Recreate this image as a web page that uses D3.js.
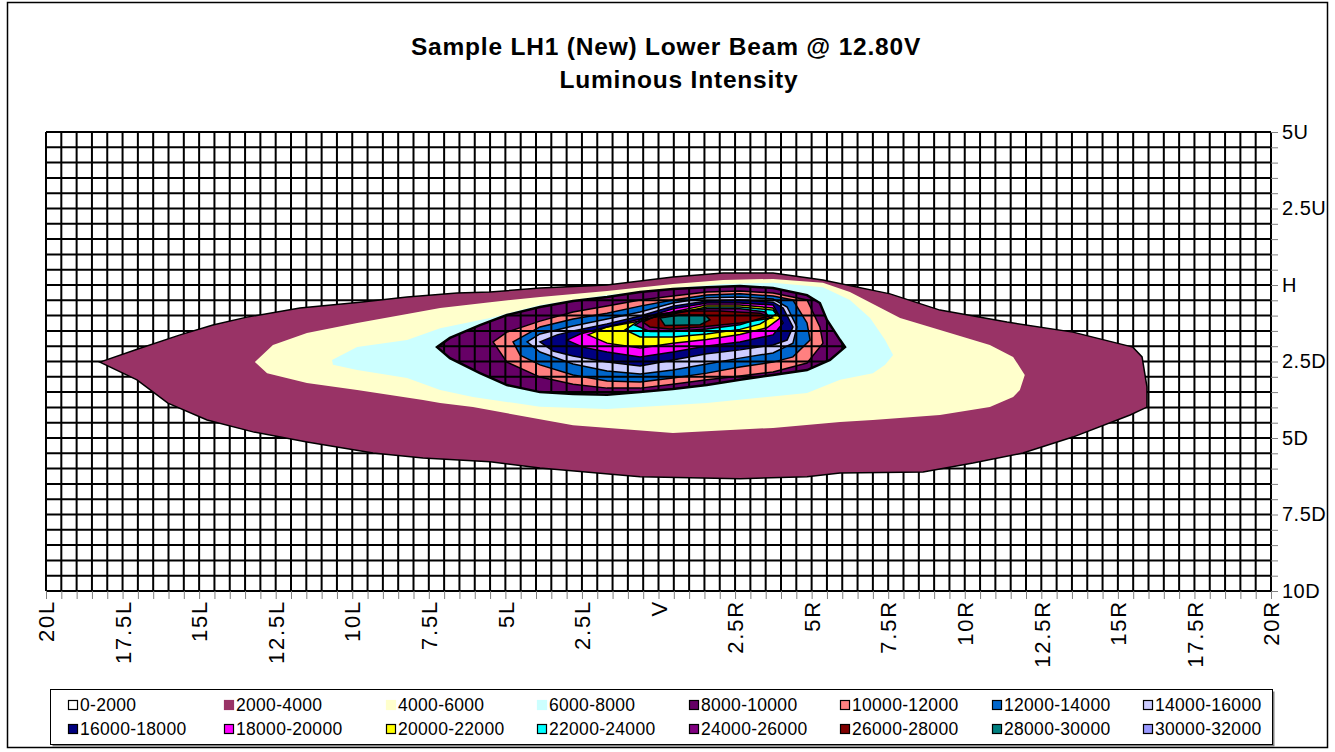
<!DOCTYPE html>
<html>
<head>
<meta charset="utf-8">
<script src="https://cdn.jsdelivr.net/npm/d3@7"></script>
<style>
  body { margin: 0; background: #fff; }
  text { font-family: Arial, "Liberation Sans", sans-serif; }
</style>
</head>
<body>
<svg id="chart" width="1335" height="752"></svg>
<script>
// ---- data (degrees: h < 0 is left, v < 0 is down) ----
const xTicks = [-20, -17.5, -15, -12.5, -10, -7.5, -5, -2.5, 0, 2.5, 5, 7.5, 10, 12.5, 15, 17.5, 20]
const xTickLabels = ["20L", "17.5L", "15L", "12.5L", "10L", "7.5L", "5L", "2.5L", "V", "2.5R", "5R", "7.5R", "10R", "12.5R", "15R", "17.5R", "20R"]
const yTicks = [5, 2.5, 0, -2.5, -5, -7.5, -10]
const yTickLabels = ["5U", "2.5U", "H", "2.5D", "5D", "7.5D", "10D"]

const levels = [0, 2000, 4000, 6000, 8000, 10000, 12000, 14000, 16000, 18000, 20000, 22000, 24000, 26000, 28000, 30000]
const bandColors = ["#FFFFFF", "#993366", "#FFFFCC", "#CCFFFF", "#660066", "#FF8080", "#0066CC", "#CCCCFF",
                    "#000080", "#FF00FF", "#FFFF00", "#00FFFF", "#800080", "#800000", "#008080", "#9999FF"]

// outline of the area at or above each level
const band2000 = [[-18.24,-2.52],[-17.0,-2.09],[-15.62,-1.63],[-14.55,-1.31],[-13.44,-1.05],[-11.71,-0.75],[-9.75,-0.56],
  [-8.21,-0.39],[-6.58,-0.26],[-5.50,-0.23],[-3.87,-0.10],[-1.68,0],[0.47,0.26],[2.11,0.39],[3.74,0.39],[5.37,0.16],
  [7.56,-0.29],[9.19,-0.82],[11.38,-1.21],[13.53,-1.54],[15.49,-2.03],[15.79,-2.35],[15.95,-3.33],[15.95,-3.99],
  [15.40,-4.25],[13.53,-4.97],[11.90,-5.49],[10.27,-5.82],[8.64,-6.11],[5.93,-6.14],[4.85,-6.27],[2.66,-6.33],
  [-0.60,-6.27],[-3.87,-5.98],[-5.50,-5.78],[-7.69,-5.65],[-9.32,-5.49],[-11.48,-5.13],[-13.24,-4.80],[-14.74,-4.41],
  [-16.02,-3.86],[-17.03,-3.10]]
const band4000 = [[-13.18,-2.52],[-12.59,-1.96],[-11.48,-1.57],[-9.84,-1.24],[-8.21,-0.95],[-7.13,-0.75],[-5.50,-0.56],
  [-3.87,-0.39],[-1.68,-0.20],[0.47,0.03],[2.11,0.16],[3.74,0.20],[5.37,0.07],[6.25,-0.23],[7.89,-1.08],[9.52,-1.57],
  [10.82,-1.96],[11.58,-2.35],[11.96,-2.94],[11.80,-3.43],[11.58,-3.66],[10.82,-3.99],[9.19,-4.25],[7.0,-4.41],
  [5.93,-4.48],[3.74,-4.67],[0.47,-4.84],[-2.79,-4.58],[-6.06,-3.99],[-7.13,-3.86],[-7.69,-3.76],[-9.84,-3.43],
  [-11.48,-3.20],[-12.78,-2.88]]
const band6000 = [[-10.66,-2.45],[-9.84,-2.03],[-8.21,-1.80],[-7.13,-1.41],[-5.50,-1.08],[-3.87,-0.65],[-1.68,-0.33],
  [0.47,-0.10],[2.11,0.03],[3.74,0.07],[5.37,-0.07],[6.25,-0.49],[6.91,-1.08],[7.40,-1.80],[7.66,-2.29],[7.40,-2.61],
  [7.0,-2.88],[5.93,-3.10],[4.85,-3.53],[1.58,-3.86],[-1.68,-4.05],[-3.87,-3.98],[-6.06,-3.66],[-7.13,-3.43],
  [-8.21,-3.04],[-9.84,-2.78],[-10.63,-2.61]]
const band8000 = [[-7.23,-2.03],[-6.81,-1.73],[-5.83,-1.31],[-4.95,-0.98],[-3.87,-0.72],[-2.79,-0.52],[-1.68,-0.39],
  [-0.60,-0.23],[0.47,-0.13],[1.58,-0.07],[2.66,-0.03],[3.74,-0.10],[4.85,-0.33],[5.27,-0.59],[5.50,-1.14],[5.93,-1.80],
  [6.09,-2.03],[5.60,-2.45],[4.85,-2.78],[3.74,-2.94],[2.66,-3.10],[1.58,-3.27],[0.47,-3.40],[-0.60,-3.50],
  [-1.68,-3.59],[-2.79,-3.56],[-3.87,-3.50],[-4.95,-3.27],[-5.83,-2.88],[-6.81,-2.39]]
const band10000 = [[-5.40,-1.86],[-4.95,-1.54],[-3.87,-1.18],[-2.79,-0.88],[-1.68,-0.69],[-0.60,-0.49],[0.47,-0.36],
  [1.58,-0.23],[2.66,-0.20],[3.74,-0.26],[4.85,-0.49],[5.27,-1.37],[5.37,-1.90],[4.85,-2.55],[3.74,-2.84],[2.66,-2.97],
  [1.58,-3.10],[0.47,-3.24],[-0.60,-3.37],[-1.68,-3.37],[-2.79,-3.24],[-3.87,-3.01],[-4.95,-2.52]]
const band12000 = [[-4.75,-1.86],[-3.87,-1.37],[-2.79,-1.11],[-1.68,-0.92],[-0.60,-0.69],[0.47,-0.49],[1.58,-0.33],
  [2.66,-0.29],[3.74,-0.36],[4.39,-0.49],[4.85,-1.24],[4.95,-1.80],[4.39,-2.35],[3.74,-2.52],[2.66,-2.68],[1.58,-2.88],
  [0.47,-3.04],[-0.60,-3.17],[-1.68,-3.14],[-2.79,-2.94],[-3.87,-2.61],[-4.52,-2.29]]
const band14000 = [[-4.29,-1.86],[-3.87,-1.60],[-2.79,-1.34],[-1.68,-1.11],[-0.60,-0.88],[0.47,-0.59],[1.58,-0.42],
  [2.66,-0.39],[3.74,-0.46],[4.20,-0.72],[4.52,-1.37],[4.39,-1.90],[3.74,-2.22],[2.66,-2.39],[1.58,-2.58],[0.47,-2.78],
  [-0.60,-2.91],[-1.68,-2.81],[-2.79,-2.58],[-3.87,-2.19]]
const band16000 = [[-3.87,-1.86],[-3.31,-1.63],[-2.79,-1.50],[-1.68,-1.27],[-0.60,-1.01],[0.47,-0.69],[1.58,-0.52],
  [2.66,-0.49],[3.74,-0.56],[4.07,-0.75],[4.39,-1.37],[4.20,-1.80],[3.74,-1.96],[2.66,-2.12],[1.58,-2.25],[0.47,-2.45],
  [-0.60,-2.65],[-1.68,-2.52],[-2.79,-2.32],[-3.44,-2.16]]
const band18000 = [[-2.99,-1.80],[-2.56,-1.60],[-1.68,-1.37],[-0.60,-1.11],[0.47,-0.78],[1.58,-0.59],[2.66,-0.59],
  [3.74,-0.65],[4.07,-1.24],[3.74,-1.63],[2.66,-1.86],[1.58,-1.99],[0.47,-2.19],[-0.60,-2.35],[-1.68,-2.19],[-2.47,-2.03]]
const band20000 = [[-2.30,-1.63],[-1.68,-1.37],[-0.60,-1.18],[0.47,-0.88],[1.58,-0.65],[2.66,-0.65],[3.74,-0.75],
  [3.97,-1.08],[3.54,-1.40],[2.66,-1.62],[1.58,-1.78],[0.47,-1.90],[-0.60,-2.06],[-1.68,-1.90]]
const band22000 = [[-1.09,-1.47],[-0.60,-1.14],[0.47,-0.95],[1.58,-0.72],[2.66,-0.72],[3.74,-0.82],[3.84,-0.95],
  [3.31,-1.28],[2.66,-1.45],[1.58,-1.60],[0.47,-1.70],[-0.60,-1.70]]
const band24000 = [[-0.77,-1.31],[-0.28,-1.01],[0.47,-0.88],[1.58,-0.78],[2.66,-0.78],[3.48,-0.88],[3.58,-1.01],
  [2.66,-1.30],[1.58,-1.44],[0.47,-1.52],[-0.28,-1.52]]
const band26000 = [[-0.51,-1.21],[0.05,-0.95],[1.03,-0.85],[2.01,-0.85],[3.31,-0.92],[3.71,-1.08],[2.66,-1.24],
  [1.36,-1.37],[0.38,-1.44],[-0.28,-1.37]]
const band28000 = [[0.05,-1.08],[0.70,-0.98],[1.52,-0.98],[1.68,-1.14],[1.36,-1.30],[0.21,-1.32]]

const outerBands = [band2000, band4000, band6000]
const innerBands = [band8000, band10000, band12000, band14000, band16000, band18000, band20000,
                    band22000, band24000, band26000, band28000]

// ---- layout ----
const svg = d3.select('#chart')
const x = d3.scaleLinear().domain([-20, 20]).range([46, 1271])
const y = d3.scaleLinear().domain([5, -10]).range([132, 591])
const path = d3.line().x(d => x(d[0])).y(d => y(d[1])).curve(d3.curveLinearClosed)

// chart frame
svg.append('rect')
    .attr('x', 7.5).attr('y', 2.5).attr('width', 1320).attr('height', 745)
    .attr('fill', '#fff').attr('stroke', '#000').attr('stroke-width', 1.5)

// title
const title = svg.append('text')
    .attr('x', 666).attr('text-anchor', 'middle')
    .attr('font-weight', 'bold').attr('font-size', 24.5)
    .attr('letter-spacing', 0.8)
title.append('tspan').attr('x', 666).attr('y', 55).text('Sample LH1 (New) Lower Beam @ 12.80V')
title.append('tspan').attr('x', 679).attr('y', 88).text('Luminous Intensity')

// grid every half degree
const gridH = d3.range(-20, 20.001, 0.5)
const gridV = d3.range(-10, 5.001, 0.5)
const drawGrid = g => {
    g.selectAll('.gx').data(gridH).join('line').attr('class', 'gx')
        .attr('x1', d => x(d)).attr('x2', d => x(d))
        .attr('y1', y(5)).attr('y2', y(-10))
    g.selectAll('.gy').data(gridV).join('line').attr('class', 'gy')
        .attr('x1', x(-20)).attr('x2', x(20))
        .attr('y1', d => y(d)).attr('y2', d => y(d))
    g.attr('stroke', '#000').attr('stroke-width', 2)
}
svg.append('g').call(drawGrid)

// outer bands cover the grid
svg.append('g').selectAll('path')
    .data(outerBands)
    .join('path')
        .attr('d', path)
        .attr('fill', (d, i) => bandColors[i + 1])
svg.append('path')
    .attr('d', path(band2000))
    .attr('fill', 'none').attr('stroke', '#000').attr('stroke-width', 1.5)

// inner bands
svg.append('g').selectAll('path')
    .data(innerBands)
    .join('path')
        .attr('d', path)
        .attr('fill', (d, i) => bandColors[i + 4])

// grid shows through the inner part
svg.append('clipPath').attr('id', 'inner-clip')
    .append('path').attr('d', path(band8000))
svg.append('g').attr('clip-path', 'url(#inner-clip)').call(drawGrid)

svg.append('g').selectAll('path')
    .data(innerBands)
    .join('path')
        .attr('d', path)
        .attr('fill', 'none')
        .attr('stroke', '#000')
        .attr('stroke-width', (d, i) => i == 0 ? 2.5 : 1.5)

// axes
const rightTicks = svg.append('g')
    .attr('transform', `translate(${x(20)},0)`)
    .call(d3.axisRight(y).tickValues(gridV).tickSize(7).tickFormat(''))
rightTicks.select('.domain').remove()
rightTicks.selectAll('line').attr('stroke', '#808080')

const rightAxis = svg.append('g')
    .attr('transform', `translate(${x(20)},0)`)
    .call(d3.axisRight(y).tickValues(yTicks).tickSize(0).tickPadding(11)
        .tickFormat((d, i) => yTickLabels[i]))
rightAxis.select('.domain').remove()
rightAxis.selectAll('text').attr('font-size', 20).attr('fill', '#000')
    .attr('letter-spacing', 0.5)
    .style('font-family', 'Arial, "Liberation Sans", sans-serif')

const bottomTicks = svg.append('g')
    .attr('transform', `translate(0,${y(-10)})`)
    .call(d3.axisBottom(x).tickValues(gridH).tickSize(8).tickFormat(''))
bottomTicks.select('.domain').remove()
bottomTicks.selectAll('line').attr('stroke', '#808080')

const bottomAxis = svg.append('g')
    .attr('transform', `translate(0,${y(-10)})`)
    .call(d3.axisBottom(x).tickValues(xTicks).tickSize(0)
        .tickFormat((d, i) => xTickLabels[i]))
bottomAxis.select('.domain').remove()
bottomAxis.selectAll('text')
    .attr('transform', 'rotate(-90)')
    .attr('text-anchor', 'end')
    .attr('x', -9).attr('y', 0).attr('dy', '0.35em')
    .attr('font-size', 22).attr('fill', '#000')
    .attr('letter-spacing', 1.8)
    .style('font-family', 'Arial, "Liberation Sans", sans-serif')

// legend
const legendX = [68, 224, 386, 537, 689, 840, 992, 1143]
svg.append('rect')
    .attr('x', 52.5).attr('y', 691.5).attr('width', 1222).attr('height', 55)
    .attr('fill', '#808080')
svg.append('rect')
    .attr('x', 50.5).attr('y', 689.5).attr('width', 1222).attr('height', 55)
    .attr('fill', '#fff').attr('stroke', '#000').attr('stroke-width', 1)

const items = svg.append('g').selectAll('g')
    .data(levels)
    .join('g')
        .attr('transform', (d, i) => `translate(${legendX[i % 8]},${i < 8 ? 700 : 724})`)
items.append('rect')
    .attr('x', 0.5).attr('y', 0.5).attr('width', 9).attr('height', 9)
    .attr('fill', (d, i) => bandColors[i])
    .attr('stroke', (d, i) => (i >= 1 && i <= 3) ? bandColors[i] : '#000')
    .attr('stroke-width', 1.2)
items.append('text')
    .attr('x', 12).attr('y', 11)
    .attr('font-size', 17.5)
    .attr('letter-spacing', 0.3)
    .text(d => `${d}-${d + 2000}`)
</script>
</body>
</html>
